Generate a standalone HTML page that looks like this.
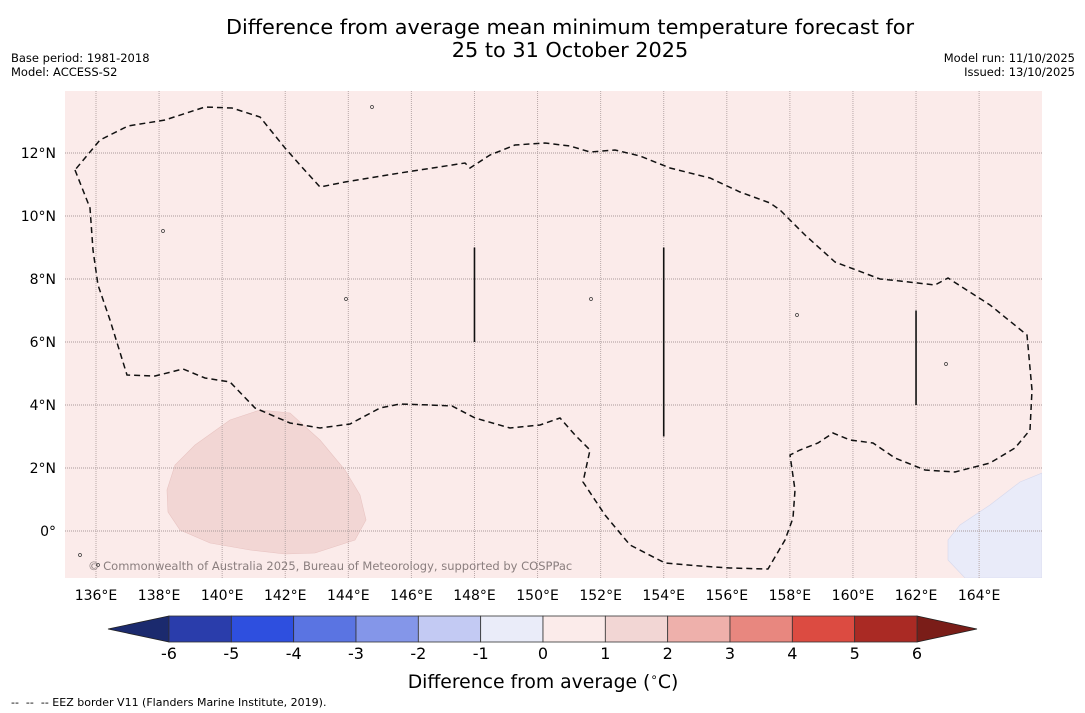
<!DOCTYPE html>
<html><head><meta charset="utf-8">
<style>
body{margin:0;background:#fff;font-family:"Liberation Sans","DejaVu Sans",sans-serif;}
svg{display:block}
</style></head>
<body>
<svg id="chart" width="1085" height="713" xmlns="http://www.w3.org/2000/svg">
<text x="570" y="34" text-anchor="middle" font-size="20.8" font-family="DejaVu Sans, Liberation Sans, sans-serif">Difference from average mean minimum temperature forecast for</text>
<text x="570" y="57" text-anchor="middle" font-size="20.8" font-family="DejaVu Sans, Liberation Sans, sans-serif">25 to 31 October 2025</text>
<text x="11" y="62" font-size="11.5" font-family="DejaVu Sans, sans-serif">Base period: 1981-2018</text>
<text x="11" y="76" font-size="11.5" font-family="DejaVu Sans, sans-serif">Model: ACCESS-S2</text>
<text x="1075" y="62" text-anchor="end" font-size="11.5" font-family="DejaVu Sans, sans-serif">Model run: 11/10/2025</text>
<text x="1075" y="76" text-anchor="end" font-size="11.5" font-family="DejaVu Sans, sans-serif">Issued: 13/10/2025</text>
<defs><clipPath id="mapclip"><rect x="65" y="91" width="977" height="487"/></clipPath></defs>
<rect x="65" y="91" width="977" height="487" fill="#fbebea"/>
<g id="map" clip-path="url(#mapclip)"></g>
<g id="axes"></g>
<g id="cbar"></g>
<text x="543" y="688" text-anchor="middle" font-size="18.8" font-family="DejaVu Sans, sans-serif">Difference from average (<tspan font-size="12" dy="-7">∘</tspan><tspan dy="7">C)</tspan></text>
<text x="11" y="706" font-size="11" font-family="DejaVu Sans, sans-serif" xml:space="preserve">--  --  -- EEZ border V11 (Flanders Marine Institute, 2019).</text>
</svg>
<script>
const lonTicks=[136,138,140,142,144,146,148,150,152,154,156,158,160,162,164];
const latTicks=[12,10,8,6,4,2,0];
const eezX=[75,90,93,98,110,127,155,183,205,230,255,290,320,350,380,400,430,452,475,510,540,560,575,590,583,605,630,665,700,730,768,785,793,795,790,800,818,833,850,873,895,925,955,990,1015,1030,1032,1027,990,948,935,900,880,835,805,780,770,740,710,670,640,615,590,570,545,515,490,470,465,400,345,320,300,285,260,232,205,165,128,100,75];
const eezY=[170,208,250,285,320,375,376,369,378,382,408,423,428,424,408,404,405,406,418,428,425,418,435,450,482,515,545,563,566,568,569,540,518,490,455,450,443,433,440,443,458,470,472,463,448,430,390,335,305,278,285,281,279,262,235,210,203,192,178,168,156,150,152,146,143,145,155,168,163,173,182,187,165,148,117,108,107,120,126,140,170];
const blobX=[167,175,195,230,260,290,320,345,360,366,355,315,285,250,210,180,168];
const blobY=[490,465,445,420,410,413,440,470,495,520,540,553,554,550,543,530,512];
const blueX=[1042,1020,990,960,948,948,965,1042];
const blueY=[473,482,505,525,540,560,578,578];
const segLon=[148,154,162];
const segLat0=[9,9,7];
const segLat1=[6,3,4];
const cbColors=["#2a3dab","#2e4fdf","#5a74e2","#8496e9","#c3caf3","#eaecf9","#fbebea","#f2d6d4","#eeb0ab","#e8877f","#dc4b41","#aa2a24"];
const cbLabels=["-6","-5","-4","-3","-2","-1","0","1","2","3","4","5","6"];
const cbLow="#1b2a6e", cbHigh="#7a1d18";

const NS="http://www.w3.org/2000/svg";
const X=lon=>96+(lon-136)*31.54;
const Y=lat=>531-lat*31.5;
const pxLon=x=>136+(x-96)/31.54;
const pxLat=y=>(531-y)/31.5;
function mk(tag,attrs,parent){const e=document.createElementNS(NS,tag);for(const k in attrs)e.setAttribute(k,attrs[k]);parent.appendChild(e);return e;}
const map=document.getElementById('map'),axes=document.getElementById('axes'),cb=document.getElementById('cbar');
function pts(xs,ys){return xs.map((x,i)=>X(pxLon(x)).toFixed(1)+','+Y(pxLat(ys[i])).toFixed(1)).join(' ');}
let p=mk('polygon',{points:pts(blobX,blobY),fill:'#f2d6d4',stroke:'#e8c4c2','stroke-width':0.6},map);


p=mk('polygon',{points:pts(blueX,blueY),fill:'#e9ebf9',stroke:'#d6d8ec','stroke-width':0.6},map);


lonTicks.forEach(l=>{
 const g=mk('line',{x1:X(l),x2:X(l),y1:91,y2:578,stroke:'#b8a8a8','stroke-width':1,'stroke-dasharray':'1,1'},map);
 
 
 const t=mk('text',{x:X(l),y:600,'text-anchor':'middle','font-size':14,'font-family':'DejaVu Sans, sans-serif'},axes);
 t.textContent=l+'°E';
 
 
});
latTicks.forEach(l=>{
 const g=mk('line',{x1:65,x2:1042,y1:Y(l),y2:Y(l),stroke:'#a89a9a','stroke-width':1,'stroke-dasharray':'1,1'},map);
 
 
 const t=mk('text',{x:56,y:Y(l)+5,'text-anchor':'end','font-size':14,'font-family':'DejaVu Sans, sans-serif'},axes);
 t.textContent=l===0?'0°':l+'°N';
 
 
});
p=mk('polyline',{points:pts(eezX,eezY),fill:'none',stroke:'#111','stroke-width':1.5,'stroke-dasharray':'6,4'},map);


segLon.forEach((l,i)=>{
 const s=mk('line',{x1:X(l),x2:X(l),y1:Y(segLat0[i]),y2:Y(segLat1[i]),stroke:'#111','stroke-width':1.6},map);
 
 
});
[[163,231],[346,299],[591,299],[797,315],[946,364],[372,107],[80,555],[98,565]].forEach(d=>{
 const c=mk('circle',{cx:d[0],cy:d[1],r:1.5,fill:'none',stroke:'#333','stroke-width':0.7},map);
 
 
});
const cr=mk('text',{x:88,y:570,'font-size':11.5,fill:'#8a7e7e','font-family':'DejaVu Sans, sans-serif'},map);
cr.textContent='© Commonwealth of Australia 2025, Bureau of Meteorology, supported by COSPPac';


const cx0=169,cx1=917,cy0=616,cy1=642,w=(cx1-cx0)/cbColors.length;
p=mk('polygon',{points:`${cx0},${cy0} ${cx0},${cy1} 108,629`,fill:cbLow,stroke:'#222','stroke-width':0.8},cb);


p=mk('polygon',{points:`${cx1},${cy0} ${cx1},${cy1} 977,629`,fill:cbHigh,stroke:'#222','stroke-width':0.8},cb);


cbColors.forEach((c,i)=>{
 const r=mk('rect',{x:cx0+i*w,y:cy0,width:w,height:cy1-cy0,fill:c,stroke:'#333','stroke-width':0.8},cb);
 
 
});
cbLabels.forEach((l,i)=>{
 const t=mk('text',{x:cx0+i*w,y:659,'text-anchor':'middle','font-size':16,'font-family':'DejaVu Sans, sans-serif'},cb);
 t.textContent=l;
 
 
});
</script>
</body></html>
